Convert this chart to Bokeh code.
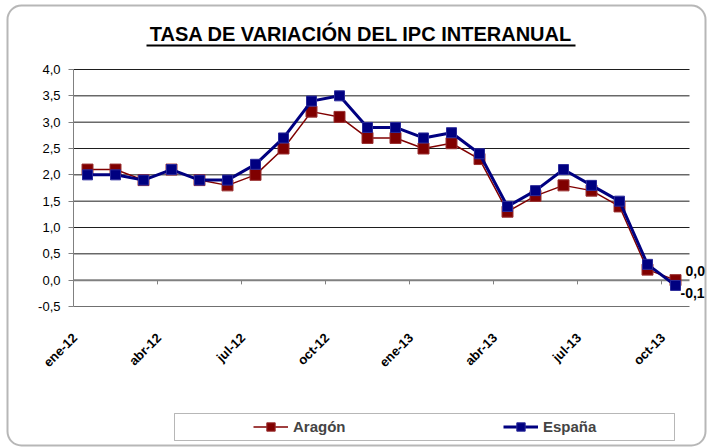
import math
from bokeh.plotting import figure
from bokeh.models import (Range1d, FixedTicker, CustomJSTickFormatter, Label, BoxAnnotation,
                          Legend, LegendItem)
from bokeh.embed import file_html
from bokeh.resources import INLINE

# ---- data ----
months = ["ene-12", "feb-12", "mar-12", "abr-12", "may-12", "jun-12", "jul-12", "ago-12",
          "sep-12", "oct-12", "nov-12", "dic-12", "ene-13", "feb-13", "mar-13", "abr-13",
          "may-13", "jun-13", "jul-13", "ago-13", "sep-13", "oct-13"]
aragon = [2.1, 2.1, 1.9, 2.1, 1.9, 1.8, 2.0, 2.5, 3.2, 3.1, 2.7, 2.7,
          2.5, 2.6, 2.3, 1.3, 1.6, 1.8, 1.7, 1.4, 0.2, 0.0]
espana = [2.0, 2.0, 1.9, 2.1, 1.9, 1.9, 2.2, 2.7, 3.4, 3.5, 2.9, 2.9,
          2.7, 2.8, 2.4, 1.4, 1.7, 2.1, 1.8, 1.5, 0.3, -0.1]
yticks = [-0.5, 0.0, 0.5, 1.0, 1.5, 2.0, 2.5, 3.0, 3.5, 4.0]
label_step = 3
title_text = "TASA DE VARIACIÓN DEL IPC INTERANUAL"
series_names = ["Aragón", "España"]

RED = "#800000"
BLUE = "#000080"
FONT = "Liberation Sans"

# ---- layout (canvas pixels) ----
W, H = 709, 448
PLOT_L, PLOT_R = 73, 689   # x of category -0.5 and n-0.5
PLOT_T, PLOT_B = 69, 306   # y of top and bottom y ticks
n = len(months)
xs = (PLOT_R - PLOT_L) / n
ys = (PLOT_B - PLOT_T) / (yticks[-1] - yticks[0])

def dx(px):
    return -0.5 + (px - PLOT_L) / xs

def dy(py):
    return yticks[0] + (PLOT_B - py) / ys

x = list(range(n))
x_lo, x_hi = -0.5, n - 0.5

p = figure(width=W, height=H, output_backend="svg", toolbar_location=None,
           x_range=Range1d(dx(0), dx(W)), y_range=Range1d(dy(H), dy(0)),
           min_border=0)
p.outline_line_color = None
p.background_fill_color = "white"
p.border_fill_color = "white"
p.xgrid.grid_line_color = None
p.ygrid.grid_line_color = None

# y axis
p.yaxis.fixed_location = x_lo
p.yaxis.ticker = FixedTicker(ticks=yticks)
p.yaxis.bounds = (yticks[0], yticks[-1])
p.yaxis.formatter = CustomJSTickFormatter(code="return tick.toFixed(1).replace('.', ',')")
p.yaxis.axis_line_color = "#808080"
p.yaxis.major_tick_line_color = "#808080"
p.yaxis.major_tick_out = 5
p.yaxis.major_tick_in = 0
p.yaxis.minor_tick_line_color = None
p.yaxis.major_label_text_font = FONT
p.yaxis.major_label_text_font_size = "13px"
p.yaxis.major_label_text_color = "black"
p.yaxis.major_label_standoff = 8

# x axis (labels every third month; label end sits left of the category centre)
XSHIFT = 0.45
xt = [i - XSHIFT for i in range(0, n, label_step)]
p.xaxis.fixed_location = yticks[0]
p.xaxis.ticker = FixedTicker(ticks=xt)
p.xaxis.bounds = (x_lo, x_hi)
p.xaxis.formatter = CustomJSTickFormatter(args=dict(labels=months, shift=XSHIFT),
                                          code="return labels[Math.round(tick + shift)]")
p.xaxis.major_label_orientation = math.pi / 4
p.xaxis.major_tick_out = 0
p.xaxis.major_tick_in = 0
p.xaxis.minor_tick_line_color = None
p.xaxis.axis_line_color = "#707070"
p.xaxis.major_label_text_font = FONT
p.xaxis.major_label_text_font_style = "bold"
p.xaxis.major_label_text_font_size = "13px"
p.xaxis.major_label_text_color = "black"
p.xaxis.major_label_standoff = 29

# horizontal grid lines (within the category span)
gl = [t for t in yticks if t > 0]
p.segment(x0=[x_lo] * len(gl), x1=[x_hi] * len(gl), y0=gl, y1=gl, line_color="#1e1e1e", line_width=1)
# category axis at y = 0 with ticks between categories
p.segment(x0=[x_lo], x1=[x_hi], y0=[0], y1=[0], line_color="#808080", line_width=2)
bx = [i - 0.5 for i in range(label_step, n, label_step)]
p.segment(x0=bx, x1=bx, y0=[0] * len(bx), y1=[-0.08] * len(bx), line_color="#808080", line_width=1)

# series
r1l = p.line(x, aragon, line_color=RED, line_width=1.5)
r1m = p.scatter(x, aragon, marker="square", size=11, fill_color=RED, line_color="#9a3030", line_width=1)
r2l = p.line(x, espana, line_color=BLUE, line_width=3)
r2m = p.scatter(x, espana, marker="square", size=10, fill_color=BLUE, line_color="#2a2a9a", line_width=1)

# data labels at the last point
def fmt(v):
    return ("%.1f" % v).replace(".", ",")

p.add_layout(Label(x=x[-1], y=aragon[-1], text=fmt(aragon[-1]), x_offset=10, y_offset=9,
                   text_baseline="middle", text_font=FONT, text_font_style="bold",
                   text_font_size="14px", text_color="black"))
p.add_layout(Label(x=x[-1], y=espana[-1], text=fmt(espana[-1]), x_offset=5, y_offset=-8,
                   text_baseline="middle", text_font=FONT, text_font_style="bold",
                   text_font_size="14px", text_color="black"))

# title + underline
p.add_layout(Label(x=dx(360.5), y=dy(33), text=title_text, text_align="center",
                   text_baseline="middle", text_font=FONT, text_font_style="bold",
                   text_font_size="20px", text_color="black"))
p.add_layout(BoxAnnotation(left=dx(146), right=dx(575), top=dy(44), bottom=dy(46),
                           fill_color="black", fill_alpha=1, line_color=None))

# legend box + legend
p.add_layout(BoxAnnotation(left=dx(174), right=dx(674), top=dy(413), bottom=dy(440),
                           fill_color="white", fill_alpha=1, line_color="#111111", line_width=1))
legend = Legend(items=[LegendItem(label=series_names[0], renderers=[r1l, r1m]),
                       LegendItem(label=series_names[1], renderers=[r2l, r2m])],
                orientation="horizontal", location=(253, H - 437),
                padding=0, spacing=0, margin=0, glyph_width=35, glyph_height=21,
                label_height=21, label_standoff=5, label_width=210,
                border_line_color=None, background_fill_alpha=0,
                label_text_font=FONT, label_text_font_style="bold", label_text_font_size="15px")
p.add_layout(legend, "center")

# outer rounded frame
p.add_layout(BoxAnnotation(left=dx(7), right=dx(705), top=dy(5), bottom=dy(445),
                           fill_alpha=0, line_color="#111111", line_width=2, border_radius=14))

open("out.html", "w").write(file_html(p, INLINE))
